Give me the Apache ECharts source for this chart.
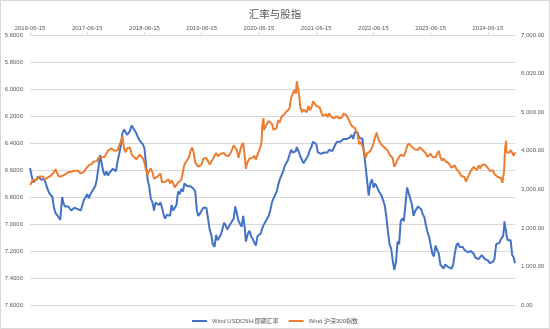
<!DOCTYPE html>
<html><head><meta charset="utf-8">
<script src="https://cdn.jsdelivr.net/npm/echarts@6/dist/echarts.min.js"></script>
<style>html,body{margin:0;padding:0;background:#fff}#c{width:550px;height:329px}</style>
</head><body><div id="c"></div>
<script>
const chartTitle = '汇率与股指';
const seriesNames = ['Wind USDCNH:即期汇率', 'Wind 沪深300指数'];
const xTickLabels = ['2016-06-15','2017-06-15','2018-06-15','2019-06-15','2020-06-15','2021-06-15','2022-06-15','2023-06-15','2024-06-15'];
const leftMin = 5.6, leftMax = 7.6, leftStep = 0.2;
const rightMin = 0, rightMax = 7000, rightStep = 1000;
const startDate = '2016-06-15';
const firstMonth = [2016, 6], lastMonth = [2024, 12];
const defaultDays = [5, 15, 25];
const dayOverrides = {
  '2016-06': [15, 25],
  '2017-01': [3, 6, 15, 25],
  '2020-03': [5, 13, 23, 31],
  '2020-07': [1, 6, 13, 16, 24],
  '2021-02': [5, 10, 19, 25],
  '2024-09': [5, 13, 18, 24, 27, 30],
  '2024-10': [8, 9, 18, 28],
  '2024-12': [3]
};
// USDCNH spot (left axis, inverted)
const usdcnh = [
/*2016-06*/ 6.585, 6.64,
/*2016-07*/ 6.69, 6.70, 6.67,
/*2016-08*/ 6.65, 6.64, 6.67,
/*2016-09*/ 6.67, 6.67, 6.68,
/*2016-10*/ 6.74, 6.77, 6.78,
/*2016-11*/ 6.80, 6.88, 6.92,
/*2016-12*/ 6.91, 6.95, 6.97,
/*2017-01*/ 6.96, 6.80, 6.85, 6.87,
/*2017-02*/ 6.87, 6.87, 6.86,
/*2017-03*/ 6.90, 6.90, 6.88,
/*2017-04*/ 6.89, 6.89, 6.89,
/*2017-05*/ 6.90, 6.89, 6.82,
/*2017-06*/ 6.80, 6.78, 6.81,
/*2017-07*/ 6.78, 6.77, 6.74,
/*2017-08*/ 6.72, 6.67, 6.66,
/*2017-09*/ 6.49, 6.55, 6.61,
/*2017-10*/ 6.64, 6.61, 6.64,
/*2017-11*/ 6.62, 6.63, 6.59,
/*2017-12*/ 6.60, 6.61, 6.54,
/*2018-01*/ 6.48, 6.42, 6.33,
/*2018-02*/ 6.30, 6.32, 6.34,
/*2018-03*/ 6.33, 6.31, 6.27,
/*2018-04*/ 6.29, 6.28, 6.33,
/*2018-05*/ 6.36, 6.38, 6.38,
/*2018-06*/ 6.41, 6.44, 6.56,
/*2018-07*/ 6.67, 6.72, 6.81,
/*2018-08*/ 6.84, 6.90, 6.84,
/*2018-09*/ 6.85, 6.86, 6.84,
/*2018-10*/ 6.88, 6.93, 6.96,
/*2018-11*/ 6.93, 6.93, 6.94,
/*2018-12*/ 6.86, 6.90, 6.89,
/*2019-01*/ 6.86, 6.76, 6.78,
/*2019-02*/ 6.74, 6.76, 6.70,
/*2019-03*/ 6.71, 6.72, 6.71,
/*2019-04*/ 6.72, 6.71, 6.74,
/*2019-05*/ 6.76, 6.90, 6.94,
/*2019-06*/ 6.92, 6.93, 6.88,
/*2019-07*/ 6.89, 6.88, 6.89,
/*2019-08*/ 7.04, 7.08, 7.15,
/*2019-09*/ 7.17, 7.08, 7.12,
/*2019-10*/ 7.12, 7.08, 7.07,
/*2019-11*/ 6.99, 7.01, 7.04,
/*2019-12*/ 7.03, 7.00, 6.99,
/*2020-01*/ 6.96, 6.87, 6.92,
/*2020-02*/ 6.98, 6.99, 7.02,
/*2020-03*/ 6.94, 7.00, 7.13, 7.09,
/*2020-04*/ 7.07, 7.05, 7.09,
/*2020-05*/ 7.11, 7.10, 7.16,
/*2020-06*/ 7.09, 7.08, 7.07,
/*2020-07*/ 7.07, 7.03, 7.01, 7.00, 7.02,
/*2020-08*/ 6.96, 6.94, 6.90,
/*2020-09*/ 6.84, 6.81, 6.82,
/*2020-10*/ 6.76, 6.71, 6.67,
/*2020-11*/ 6.68, 6.61, 6.57,
/*2020-12*/ 6.55, 6.53, 6.53,
/*2021-01*/ 6.45, 6.47, 6.47,
/*2021-02*/ 6.46, 6.43, 6.44, 6.47,
/*2021-03*/ 6.50, 6.50, 6.55,
/*2021-04*/ 6.53, 6.52, 6.49,
/*2021-05*/ 6.45, 6.43, 6.39,
/*2021-06*/ 6.39, 6.41, 6.47,
/*2021-07*/ 6.47, 6.48, 6.49,
/*2021-08*/ 6.47, 6.48, 6.47,
/*2021-09*/ 6.45, 6.45, 6.46,
/*2021-10*/ 6.45, 6.41, 6.39,
/*2021-11*/ 6.40, 6.39, 6.39,
/*2021-12*/ 6.37, 6.38, 6.37,
/*2022-01*/ 6.37, 6.36, 6.34,
/*2022-02*/ 6.37, 6.32, 6.32,
/*2022-03*/ 6.32, 6.36, 6.37,
/*2022-04*/ 6.37, 6.38, 6.57,
/*2022-05*/ 6.68, 6.79, 6.70,
/*2022-06*/ 6.67, 6.73, 6.70,
/*2022-07*/ 6.72, 6.75, 6.76,
/*2022-08*/ 6.79, 6.80, 6.86,
/*2022-09*/ 6.95, 7.06, 7.15,
/*2022-10*/ 7.18, 7.27, 7.34,
/*2022-11*/ 7.28, 7.13, 7.15,
/*2022-12*/ 6.98, 6.96, 6.98,
/*2023-01*/ 6.85, 6.73, 6.77,
/*2023-02*/ 6.78, 6.86, 6.94,
/*2023-03*/ 6.91, 6.89, 6.87,
/*2023-04*/ 6.88, 6.89, 6.93,
/*2023-05*/ 6.95, 7.01, 7.06,
/*2023-06*/ 7.10, 7.16, 7.22,
/*2023-07*/ 7.24, 7.16, 7.19,
/*2023-08*/ 7.22, 7.30, 7.31,
/*2023-09*/ 7.33, 7.30, 7.31,
/*2023-10*/ 7.32, 7.31, 7.33,
/*2023-11*/ 7.30, 7.22, 7.16,
/*2023-12*/ 7.14, 7.17, 7.17,
/*2024-01*/ 7.17, 7.19, 7.20,
/*2024-02*/ 7.21, 7.21, 7.20,
/*2024-03*/ 7.21, 7.22, 7.25,
/*2024-04*/ 7.25, 7.26, 7.27,
/*2024-05*/ 7.23, 7.23, 7.26,
/*2024-06*/ 7.25, 7.27, 7.29,
/*2024-07*/ 7.29, 7.28, 7.26,
/*2024-08*/ 7.15, 7.16, 7.14,
/*2024-09*/ 7.11, 7.10, 7.09, 7.03, 6.98, 7.01,
/*2024-10*/ 7.06, 7.08, 7.12, 7.13,
/*2024-11*/ 7.12, 7.23, 7.25,
/*2024-12*/ 7.29
];
// CSI 300 index (right axis)
const csi300 = [
/*2016-06*/ 3110, 3120,
/*2016-07*/ 3250, 3280, 3240,
/*2016-08*/ 3210, 3330, 3310,
/*2016-09*/ 3330, 3250, 3250,
/*2016-10*/ 3300, 3320, 3350,
/*2016-11*/ 3360, 3440, 3520,
/*2016-12*/ 3480, 3330, 3320,
/*2017-01*/ 3340, 3350, 3320, 3385,
/*2017-02*/ 3380, 3450, 3470,
/*2017-03*/ 3450, 3460, 3480,
/*2017-04*/ 3510, 3480, 3440,
/*2017-05*/ 3410, 3390, 3450,
/*2017-06*/ 3520, 3560, 3620,
/*2017-07*/ 3660, 3660, 3720,
/*2017-08*/ 3700, 3730, 3810,
/*2017-09*/ 3840, 3830, 3840,
/*2017-10*/ 3840, 3930, 4000,
/*2017-11*/ 4010, 4060, 4080,
/*2017-12*/ 4000, 4040, 4010,
/*2018-01*/ 4140, 4230, 4370,
/*2018-02*/ 4050, 3960, 4070,
/*2018-03*/ 4100, 4080, 3910,
/*2018-04*/ 3850, 3870, 3780,
/*2018-05*/ 3830, 3900, 3850,
/*2018-06*/ 3800, 3690, 3500,
/*2018-07*/ 3380, 3480, 3540,
/*2018-08*/ 3440, 3280, 3330,
/*2018-09*/ 3320, 3270, 3410,
/*2018-10*/ 3190, 3160, 3190,
/*2018-11*/ 3220, 3260, 3150,
/*2018-12*/ 3230, 3160, 3050,
/*2019-01*/ 3040, 3170, 3190,
/*2019-02*/ 3250, 3450, 3640,
/*2019-03*/ 3700, 3690, 3820,
/*2019-04*/ 4000, 4080, 3940,
/*2019-05*/ 3690, 3720, 3590,
/*2019-06*/ 3600, 3640, 3790,
/*2019-07*/ 3840, 3810, 3840,
/*2019-08*/ 3640, 3720, 3780,
/*2019-09*/ 3870, 3940, 3860,
/*2019-10*/ 3830, 3920, 3910,
/*2019-11*/ 3940, 3880, 3830,
/*2019-12*/ 3860, 3900, 4020,
/*2020-01*/ 4140, 4160, 4010,
/*2020-02*/ 3820, 4000, 4140,
/*2020-03*/ 4200, 3950, 3530, 3690,
/*2020-04*/ 3720, 3800, 3800,
/*2020-05*/ 3810, 3870, 3770,
/*2020-06*/ 3900, 4000, 4110,
/*2020-07*/ 4250, 4670, 4850, 4540, 4500,
/*2020-08*/ 4700, 4770, 4720,
/*2020-09*/ 4700, 4540, 4590,
/*2020-10*/ 4590, 4790, 4730,
/*2020-11*/ 4880, 4930, 4950,
/*2020-12*/ 5010, 4990, 5090,
/*2021-01*/ 5370, 5470, 5570,
/*2021-02*/ 5480, 5800, 5770, 5450,
/*2021-03*/ 5120, 5000, 5070,
/*2021-04*/ 5030, 5000, 5160,
/*2021-05*/ 5050, 5120, 5280,
/*2021-06*/ 5250, 5160, 5170,
/*2021-07*/ 5130, 5090, 4900,
/*2021-08*/ 4940, 4950, 4870,
/*2021-09*/ 4970, 4890, 4860,
/*2021-10*/ 4840, 4860, 4900,
/*2021-11*/ 4840, 4880, 4860,
/*2021-12*/ 4960, 4930, 4920,
/*2022-01*/ 4830, 4740, 4650,
/*2022-02*/ 4620, 4590, 4560,
/*2022-03*/ 4420, 4170, 4230,
/*2022-04*/ 4190, 4010, 3820,
/*2022-05*/ 3930, 3920, 3990,
/*2022-06*/ 4080, 4200, 4350,
/*2022-07*/ 4470, 4300, 4260,
/*2022-08*/ 4150, 4190, 4080,
/*2022-09*/ 4090, 3990, 3900,
/*2022-10*/ 3880, 3810, 3580,
/*2022-11*/ 3670, 3770, 3750,
/*2022-12*/ 3900, 3950, 3860,
/*2023-01*/ 3970, 4120, 4190,
/*2023-02*/ 4140, 4100, 4050,
/*2023-03*/ 4030, 4020, 4020,
/*2023-04*/ 4090, 4120, 4010,
/*2023-05*/ 3960, 3930, 3840,
/*2023-06*/ 3830, 3920, 3840,
/*2023-07*/ 3850, 3830, 3920,
/*2023-08*/ 3990, 3840, 3740,
/*2023-09*/ 3800, 3730, 3690,
/*2023-10*/ 3680, 3630, 3560,
/*2023-11*/ 3580, 3620, 3530,
/*2023-12*/ 3490, 3430, 3350,
/*2024-01*/ 3360, 3320, 3200,
/*2024-02*/ 3220, 3380, 3480,
/*2024-03*/ 3530, 3580, 3560,
/*2024-04*/ 3500, 3620, 3540,
/*2024-05*/ 3630, 3650, 3640,
/*2024-06*/ 3600, 3540, 3480,
/*2024-07*/ 3460, 3490, 3390,
/*2024-08*/ 3360, 3320, 3300,
/*2024-09*/ 3290, 3170, 3160, 3460, 3700, 4020,
/*2024-10*/ 4260, 3960, 3910, 3950,
/*2024-11*/ 4020, 3970, 3870,
/*2024-12*/ 3960
];

// build the date list (categories) month by month
const dates = [];
(function () {
  let y = firstMonth[0], m = firstMonth[1];
  while (y < lastMonth[0] || (y === lastMonth[0] && m <= lastMonth[1])) {
    const key = y + '-' + String(m).padStart(2, '0');
    const days = dayOverrides[key] || defaultDays;
    days.forEach(d => dates.push(key + '-' + String(d).padStart(2, '0')));
    m++; if (m > 12) { m = 1; y++; }
  }
})();
function dayOffset(s) {
  const p = s.split('-').map(Number), q = startDate.split('-').map(Number);
  return Math.round((Date.UTC(p[0], p[1] - 1, p[2]) - Date.UTC(q[0], q[1] - 1, q[2])) / 86400000);
}
const offsets = dates.map(dayOffset);
const n = Math.min(offsets.length, usdcnh.length, csi300.length);
if (offsets.length !== usdcnh.length || offsets.length !== csi300.length) {
  console.error('length mismatch', offsets.length, usdcnh.length, csi300.length);
}
const xMax = offsets[n - 1];
const fontLatin = 'Liberation Sans, Noto Sans CJK SC, sans-serif';
const labelColor = '#595959';
const gridColor = '#d9d9d9';

const chart = echarts.init(document.getElementById('c'), null, { renderer: 'canvas' });
chart.setOption({
  animation: false,
  backgroundColor: '#ffffff',
  title: {
    text: chartTitle, left: 'center', top: 4,
    textStyle: { fontSize: 10.5, color: labelColor, fontWeight: 'normal', fontFamily: 'Noto Sans CJK SC' }
  },
  legend: {
    data: seriesNames, left: 'center', top: 313, icon: 'rect',
    itemWidth: 15, itemHeight: 2, itemGap: 10,
    textStyle: { fontSize: 6, color: labelColor, fontFamily: fontLatin }
  },
  grid: { left: 30, right: 35, top: 35, bottom: 24, containLabel: false },
  xAxis: {
    type: 'value', position: 'top', min: 0, max: xMax, interval: 365,
    axisLine: { show: true, onZero: false, lineStyle: { color: gridColor, width: 1 } },
    axisTick: { show: true, length: 3, lineStyle: { color: gridColor } },
    splitLine: { show: false },
    axisLabel: {
      fontSize: 6, color: labelColor, fontFamily: fontLatin, margin: 4, showMaxLabel: false,
      formatter: function (v) {
        const k = Math.round(v / 365);
        return (Math.abs(v - k * 365) < 1 && xTickLabels[k]) ? xTickLabels[k] : '';
      }
    }
  },
  yAxis: [
    {
      type: 'value', inverse: true, min: leftMin, max: leftMax, interval: leftStep,
      axisLine: { show: false }, axisTick: { show: false },
      splitLine: { show: true, lineStyle: { color: gridColor, width: 1 } },
      axisLabel: { fontSize: 6, color: labelColor, fontFamily: fontLatin, margin: 7,
        formatter: v => Number(v).toFixed(4) }
    },
    {
      type: 'value', position: 'right', min: rightMin, max: rightMax, interval: rightStep,
      axisLine: { show: false }, axisTick: { show: false }, splitLine: { show: false },
      axisLabel: { fontSize: 6, color: labelColor, fontFamily: fontLatin, margin: 6,
        formatter: v => Number(v).toLocaleString('en-US', { minimumFractionDigits: 2, maximumFractionDigits: 2 }) }
    }
  ],
  series: [
    {
      name: seriesNames[0], type: 'line', yAxisIndex: 0, symbol: 'none', showSymbol: false,
      lineStyle: { width: 2, color: '#4472C4' }, itemStyle: { color: '#4472C4' },
      data: offsets.slice(0, n).map((d, i) => [d, usdcnh[i]])
    },
    {
      name: seriesNames[1], type: 'line', yAxisIndex: 1, symbol: 'none', showSymbol: false,
      lineStyle: { width: 2, color: '#ED7D31' }, itemStyle: { color: '#ED7D31' },
      data: offsets.slice(0, n).map((d, i) => [d, csi300[i]])
    }
  ],
  graphic: [{
    type: 'rect', silent: true, z: 100,
    shape: { x: 0.5, y: 0.5, width: 549, height: 328 },
    style: { fill: 'none', stroke: gridColor, lineWidth: 1 }
  }]
});
</script></body></html>
